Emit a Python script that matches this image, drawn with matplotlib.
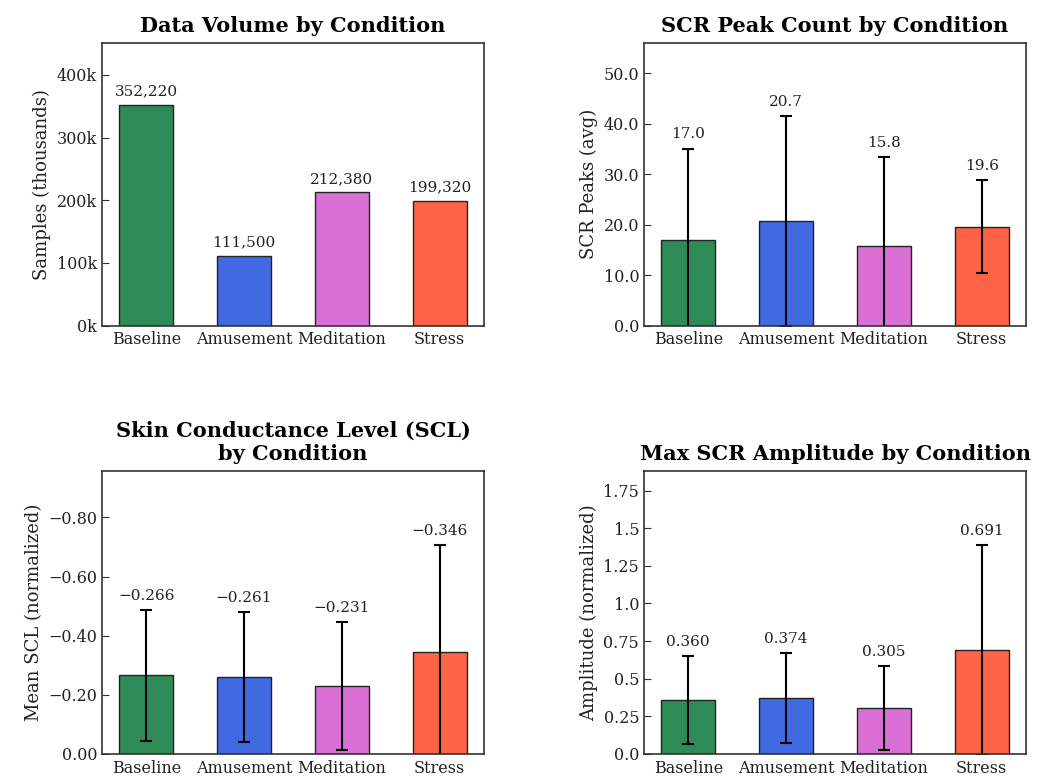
import numpy as np
import matplotlib.pyplot as plt
from matplotlib.ticker import FuncFormatter

conditions = ['Baseline', 'Amusement', 'Meditation', 'Stress']
colors = ['#2E8B57', '#4169E1', '#DA70D6', '#FF6347']

samples = [352220, 111500, 212380, 199320]

scr_peaks = [17.0, 20.7, 15.8, 19.6]
scr_peaks_err = [18.1, 20.8, 17.7, 9.2]

scl_mean = [-0.266, -0.261, -0.231, -0.346]
scl_err = [0.222, 0.220, 0.216, 0.362]

amp_max = [0.360, 0.374, 0.305, 0.691]
amp_err = [0.292, 0.298, 0.280, 0.700]

plt.rcParams['font.family'] = 'DejaVu Serif'
plt.rcParams['axes.unicode_minus'] = True

fig, axes = plt.subplots(2, 2, figsize=(10.41, 7.76), dpi=100)
fig.subplots_adjust(left=0.098, right=0.9856, top=0.9446, bottom=0.0284,
                    wspace=0.419, hspace=0.516)

x = np.arange(len(conditions))
txt_col = '#222222'


def style(ax, title, ylabel):
    ax.set_title(title, fontsize=15, fontweight='bold', pad=8)
    ax.set_ylabel(ylabel, fontsize=13, color=txt_col)
    ax.set_xticks(x)
    ax.set_xticklabels(conditions, fontsize=11.5, color=txt_col)
    ax.tick_params(axis='x', length=0, pad=4)
    ax.tick_params(axis='y', direction='in', length=5, labelsize=11.5,
                   labelcolor=txt_col, color='#333333')
    for s in ax.spines.values():
        s.set_color('#333333')
        s.set_linewidth(1.2)


def mk_minus(s):
    return s.replace('-', '\u2212')


# ---------------- Data volume ----------------
ax = axes[0, 0]
ax.bar(x, samples, width=0.55, color=colors, edgecolor='#222222', linewidth=1)
top = max(samples) * 1.28
ax.set_ylim(0, top)
for xi, v in zip(x, samples):
    ax.text(xi, v + top * 0.022, f'{v:,}', ha='center', va='bottom',
            fontsize=11, color=txt_col)
ax.yaxis.set_major_formatter(FuncFormatter(lambda v, p: f'{int(v / 1000)}k'))
style(ax, 'Data Volume by Condition', 'Samples (thousands)')


def err_panel(ax, vals, errs, title, ylabel, fmt, tickfmt, invert=False):
    ax.bar(x, vals, width=0.55, color=colors, edgecolor='#222222', linewidth=1)
    ax.errorbar(x, vals, yerr=errs, fmt='none', ecolor='black', elinewidth=1.5,
                capsize=4.5, capthick=1.5)
    upper = [abs(v) + e for v, e in zip(vals, errs)]
    top = max(upper) * 1.35
    sign = -1 if invert else 1
    if invert:
        ax.set_ylim(0, -top)
    else:
        ax.set_ylim(0, top)
    for xi, v, u in zip(x, vals, upper):
        ax.text(xi, sign * (u + top * 0.025), mk_minus(fmt.format(v)),
                ha='center', va='bottom', fontsize=11, color=txt_col)
    ax.yaxis.set_major_formatter(FuncFormatter(tickfmt))
    style(ax, title, ylabel)


err_panel(axes[0, 1], scr_peaks, scr_peaks_err, 'SCR Peak Count by Condition',
          'SCR Peaks (avg)', '{:.1f}', lambda v, p: f'{v:.1f}')
err_panel(axes[1, 0], scl_mean, scl_err,
          'Skin Conductance Level (SCL)\nby Condition',
          'Mean SCL (normalized)', '{:.3f}',
          lambda v, p: mk_minus(f'{v:.2f}') if abs(v) > 1e-9 else '0.00',
          invert=True)
err_panel(axes[1, 1], amp_max, amp_err, 'Max SCR Amplitude by Condition',
          'Amplitude (normalized)', '{:.3f}',
          lambda v, p: str(round(v, 2)))

plt.savefig('out.png', dpi=100)
